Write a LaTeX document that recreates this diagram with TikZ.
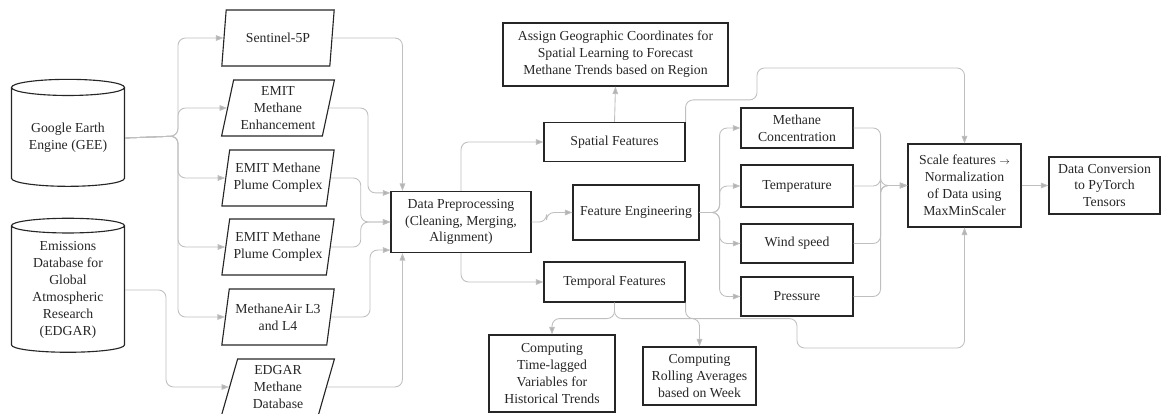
\documentclass[tikz,border=0pt]{standalone}
\usepackage{fontspec}
\setmainfont{Liberation Serif}
\usepackage{tikz}
\usetikzlibrary{shapes.geometric,arrows.meta,calc}
\tikzset{
  box/.style={draw=black!85, line width=0.9pt, align=center, inner sep=1pt, text=black!85, font=\fontsize{11}{13.5}\selectfont},
  db/.style={box, cylinder, shape border rotate=90, aspect=0.2, minimum width=90.4pt},
  src/.style={box, trapezium, trapezium left angle=77, trapezium right angle=103, trapezium stretches=true, minimum width=90.4pt, minimum height=44.8pt},
  flow/.style={draw=black!25, line width=0.7pt, rounded corners=6pt, -{Triangle[length=6pt,width=4.5pt,fill=black!30]}}
}
\begin{document}
\begin{tikzpicture}[x=0.8pt,y=-0.8pt]
  \useasboundingbox (0,0) rectangle (1161,414);
  \node[db, minimum height=85.6pt] (gee) at (68,138) {Google Earth\\Engine (GEE)};
  \node[db, minimum height=107.2pt] (edgar) at (68,290) {Emissions\\Database for\\Global\\Atmospheric\\Research\\(EDGAR)};
  \node[src] (sen) at (278,38) {Sentinel-5P};
  \node[src] (enh) at (278,108) {EMIT\\Methane\\Enhancement};
  \node[src] (pl1) at (278,178) {EMIT Methane\\Plume Complex};
  \node[src] (pl2) at (278,247) {EMIT Methane\\Plume Complex};
  \node[src] (air) at (278,317) {MethaneAir L3\\and L4};
  \node[src] (edb) at (278,387) {EDGAR\\Methane\\Database};
  \node[box, minimum width=112pt, minimum height=48.8pt] (dp) at (461,222) {Data Preprocessing\\(Cleaning, Merging,\\Alignment)};
  \node[box, minimum width=112.8pt, minimum height=31.2pt] (sf) at (614.5,142) {Spatial Features};
  \node[box, minimum width=180pt, minimum height=50.4pt] (geo) at (615.5,54.5) {Assign Geographic Coordinates for\\Spatial Learning to Forecast\\Methane Trends based on Region};
  \node[box, minimum width=100.8pt, minimum height=44pt] (fe) at (636,212.5) {Feature Engineering};
  \node[box, minimum width=112.8pt, minimum height=32pt] (tf) at (614.5,282) {Temporal Features};
  \node[box, minimum width=100.8pt, minimum height=61.6pt] (lag) at (552,373.5) {Computing\\Time-lagged\\Variables for\\Historical Trends};
  \node[box, minimum width=90.4pt, minimum height=46.4pt] (roll) at (699.5,376) {Computing\\Rolling Averages\\based on Week};
  \node[box, minimum width=89.6pt, minimum height=32pt] (mc) at (797,128) {Methane\\Concentration};
  \node[box, minimum width=89.6pt, minimum height=33.6pt] (temp) at (797,186) {Temperature};
  \node[box, minimum width=89.6pt, minimum height=31.2pt] (wind) at (797,243.5) {Wind speed};
  \node[box, minimum width=89.6pt, minimum height=31.2pt] (pres) at (797,296.5) {Pressure};
  \node[box, minimum width=90.4pt, minimum height=66.4pt] (scale) at (964.5,185.5) {Scale features {\footnotesize$\rightarrow$}\\Normalization\\of Data using\\MaxMinScaler};
  \node[box, minimum width=88.8pt, minimum height=45.6pt] (conv) at (1104.5,185.5) {Data Conversion\\to PyTorch\\Tensors};
  \coordinate (gsplit) at (178,136);
  \coordinate (esplit) at (166,290);
  \coordinate (tophop) at (757,68);
  \coordinate (bothop) at (797,348);
  \foreach \t in {sen,enh,pl1,pl2,air}
    \draw[flow] (gee.east) -- (gsplit) |- (\t.west);
  \draw[flow] (edgar.east) -- (esplit) |- (edb.west);
  \draw[flow] (sen.east) -| ($(dp.north west)+(12,0)$);
  \draw[flow] (enh.east) -- ++(39,0) |- ($(dp.north west)+(0,2)$);
  \draw[flow] (pl1.east) -- ++(30,0) |- (dp.west);
  \draw[flow] (pl2.east) -- ++(30,0) |- (dp.west);
  \draw[flow] (air.east) -- ++(39,0) |- ($(dp.south west)+(0,-3)$);
  \draw[flow] (edb.east) -| ($(dp.south west)+(12,0)$);
  \draw[flow] (dp.north) |- (sf.west);
  \draw[flow] (dp.south) |- (tf.west);
  \draw[flow] (dp.east) -- ++(15,0) |- (fe.west);
  \draw[flow] (sf.north) -- (geo.south);
  \draw[flow] (sf.north east) -- ++(0,-22) -| (tophop) -| (scale.north);
  \foreach \t in {mc,temp,wind,pres}{
    \draw[flow] (fe.east) -- ++(20,0) |- (\t.west);
    \draw[flow] (\t.east) -- ++(27,0) |- (scale.west);
  }
  \draw[flow] (tf.south) -- ++(0,16) -| (lag.north);
  \draw[flow] (tf.south) -- ++(0,16) -| (roll.north);
  \draw[flow] (tf.south east) -- ++(0,16) -| (bothop) -| (scale.south);
  \draw[flow] (scale.east) -- (conv.west);
\end{tikzpicture}
\end{document}
